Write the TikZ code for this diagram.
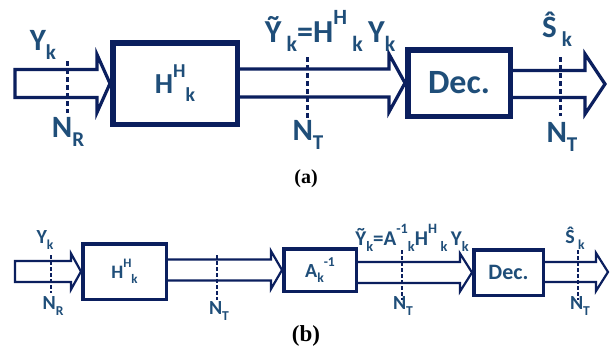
\documentclass[tikz,border=0pt]{standalone}
\usepackage{fontspec}
\setmainfont{Carlito}
\newfontfamily\capfont{Liberation Serif}
\usetikzlibrary{calc}
\definecolor{navy}{HTML}{0B1F5E}
\definecolor{txt}{HTML}{1F4E79}
\newcommand\mysub[1]{\raisebox{-0.28em}{\scalebox{0.68}{#1}}}
\newcommand\mysup[1]{\raisebox{0.55em}{\scalebox{0.68}{#1}}}
% block arrow: start, end, head length, half shaft, half head, closing, style
\newcommand\blockarr[7]{%
  \draw[#7] let \p1=(#1), \p2=(#2) in
    (\x1,\y2+#4pt)--(\x2-#3pt,\y2+#4pt)--(\x2-#3pt,\y2+#5pt)--(\x2,\y2)
    --(\x2-#3pt,\y2-#5pt)--(\x2-#3pt,\y2-#4pt)--(\x1,\y2-#4pt) #6;}
\tikzset{
  boxA/.style={draw=navy,line width=5.5pt,fill=white,inner sep=0pt},
  boxB/.style={draw=navy,line width=3.5pt,fill=white,inner sep=0pt},
  arrA/.style={draw=navy,line width=3.2pt,line join=miter},
  arrB/.style={draw=navy,line width=2.2pt,line join=miter},
  dotA/.style={draw=navy,line width=3pt,dash pattern=on 5pt off 3pt},
  dotB/.style={draw=navy,line width=2.2pt,dash pattern=on 3.5pt off 2.5pt},
  lab/.style={text=txt,font=\bfseries,inner sep=0pt},
}
\begin{document}
\begin{tikzpicture}[x=1pt,y=-1pt]
\useasboundingbox[fill=white] (0,0) rectangle (614,354);
% ---------------- panel (a)
\coordinate (a0) at (15,84);
\coordinate (a3) at (605,84);
\node[boxA,minimum width=124.5pt,minimum height=81.5pt] (Ha) at (175,83.5) {};
\node[boxA,minimum width=102.5pt,minimum height=66.5pt] (Deca) at (459,83) {};
\blockarr{a0}{Ha.west}{13}{14}{29}{--cycle}{arrA}
\blockarr{Ha.east}{Deca.west}{16}{14}{29}{}{arrA}
\blockarr{Deca.east}{a3}{20}{13.5}{30}{}{arrA}
\node[lab,font=\bfseries\fontsize{29}{29}\selectfont] at (Ha) {H\mysup{H}\mysub{k}};
\node[lab,font=\bfseries\fontsize{34}{34}\selectfont] at (Deca) {Dec.};
\draw[dotA] (67,61) -- (67,113);
\draw[dotA] (307,57) -- (307,118);
\draw[dotA] (560,57) -- (560,116);
\node[lab,font=\bfseries\fontsize{31}{31}\selectfont] (ya) at (43,45) {Y\mysub{k}};
\node[lab,font=\bfseries\fontsize{31}{31}\selectfont] (nra) at (68,132) {N\mysub{R}};
\node[lab,font=\bfseries\fontsize{32}{32}\selectfont] (yta) at (330,31) {Ỹ\,\mysub{k}=H\mysup{H}\,\mysub{k}\,Y\mysub{k}};
\node[lab,font=\bfseries\fontsize{31}{31}\selectfont] (nta) at (308,135) {N\mysub{T}};
\node[lab,font=\bfseries\fontsize{31}{31}\selectfont] (sa) at (557,29) {Ŝ\,\mysub{k}};
\node[lab,font=\bfseries\fontsize{31}{31}\selectfont] (nta2) at (562,137) {N\mysub{T}};
\node[inner sep=0pt,font=\capfont\bfseries\fontsize{20}{20}\selectfont] (capa) at (306,179) {(a)};
% ---------------- panel (b)
\coordinate (b0) at (15,271.5);
\coordinate (b4) at (608,272);
\node[boxB,minimum width=83.5pt,minimum height=55.5pt] (Hb) at (124.5,271.5) {};
\node[boxB,minimum width=72.5pt,minimum height=42.5pt] (Ab) at (320,270) {};
\node[boxB,minimum width=69.5pt,minimum height=45.5pt] (Decb) at (508.5,272.5) {};
\blockarr{b0}{Hb.west}{10}{10.5}{18}{--cycle}{arrB}
\blockarr{Hb.east}{Ab.west}{11}{10.5}{19}{}{arrB}
\blockarr{Ab.east}{Decb.west}{12}{10.5}{19}{}{arrB}
\blockarr{Decb.east}{b4}{12}{10}{19}{}{arrB}
\node[lab,font=\bfseries\fontsize{19}{19}\selectfont] at (Hb) {H\mysup{H}\mysub{k}};
\node[lab,font=\bfseries\fontsize{20}{20}\selectfont] at (Ab) {A\mysub{k}\mysup{-1}};
\node[lab,font=\bfseries\fontsize{22}{22}\selectfont] at (Decb) {Dec.};
\draw[dotB] (51,255) -- (51,293);
\draw[dotB] (217,255) -- (217,300);
\draw[dotB] (402,250) -- (402,300);
\draw[dotB] (578,250) -- (578,300);
\node[lab,font=\bfseries\fontsize{20}{20}\selectfont] (yb) at (45,240) {Y\mysub{k}};
\node[lab,font=\bfseries\fontsize{20}{20}\selectfont] (nrb) at (53,306) {N\mysub{R}};
\node[lab,font=\bfseries\fontsize{20}{20}\selectfont] (ntb) at (219,311) {N\mysub{T}};
\node[lab,font=\bfseries\fontsize{21}{21}\selectfont] (ytb) at (412,238) {Ỹ\mysub{k}=A\mysup{-1}\mysub{k}H\mysup{H}\,\mysub{k}\,Y\mysub{k}};
\node[lab,font=\bfseries\fontsize{20}{20}\selectfont] (ntb2) at (403,306) {N\mysub{T}};
\node[lab,font=\bfseries\fontsize{20}{20}\selectfont] (sb) at (575,238) {Ŝ\,\mysub{k}};
\node[lab,font=\bfseries\fontsize{20}{20}\selectfont] (ntb3) at (580,306) {N\mysub{T}};
\node[inner sep=0pt,font=\capfont\bfseries\fontsize{23}{23}\selectfont] (capb) at (306,336) {(b)};
\end{tikzpicture}
\end{document}
